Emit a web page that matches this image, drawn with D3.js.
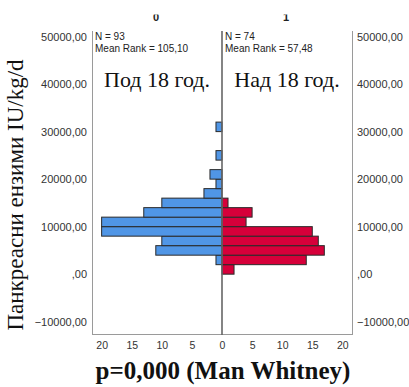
<!DOCTYPE html>
<html>
<head>
<meta charset="utf-8">
<script src="https://cdn.jsdelivr.net/npm/d3@7"></script>
<style>
  html, body { margin: 0; padding: 0; background: #fff; }
  svg { display: block; }
  .tick text { font-family: "Liberation Sans", Arial, sans-serif; fill: #333; }
</style>
</head>
<body>
<svg id="chart" width="409" height="387"></svg>
<script>
// Histogram bins (lower edge of each 2000-wide class, IU/kg/d)
const binStarts = [0, 2000, 4000, 6000, 8000, 10000, 12000, 14000, 16000, 18000, 20000, 22000, 24000, 26000, 28000, 30000];
const binWidth = 2000;
// Frequencies per bin
const under18 = [0, 1, 11, 10, 20, 20, 13, 10, 3, 1, 2, 0, 1, 0, 0, 1];
const over18  = [2, 14, 17, 16, 15, 4, 5, 1, 0, 0, 0, 0, 0, 0, 0, 0];
// Group headers and labels
const groupCodes = ["0", "1"];
const groupNames = ["Под 18 год.", "Над 18 год."];
const groupN = [93, 74];
const groupMeanRank = ["105,10", "57,48"];
// Axis ticks
const yTicks = [-10000, 0, 10000, 20000, 30000, 40000, 50000];
const xTicksLeft = [20, 15, 10, 5];
const xTicksRight = [0, 5, 10, 15, 20];
const yTitle = "Панкреасни ензими IU/kg/d";
const chartTitle = "p=0,000 (Man Whitney)";

const svg = d3.select("#chart");
const plotLeft = 92, plotMid = 222, plotRight = 352, plotTop = 31, plotBottom = 334;

const y = d3.scaleLinear().domain([-12590, 51170]).range([plotBottom, plotTop]);
const xL = d3.scaleLinear().domain([0, 21.6]).range([plotMid, plotLeft]);
const xR = d3.scaleLinear().domain([0, 21.6]).range([plotMid, plotRight]);

const fmt = v => v === 0 ? ",00" : d3.format(".2f")(v).replace(".", ",");

// Frame
const frame = svg.append("g").attr("fill", "none").attr("stroke", "#9a9a9a").attr("stroke-width", 1);
frame.append("line").attr("x1", plotLeft + 0.5).attr("x2", plotLeft + 0.5).attr("y1", plotTop).attr("y2", plotBottom + 0.5);
frame.append("line").attr("x1", plotRight + 0.5).attr("x2", plotRight + 0.5).attr("y1", plotTop).attr("y2", plotBottom + 0.5);
frame.append("line").attr("x1", plotLeft).attr("x2", plotRight + 1).attr("y1", plotBottom + 0.5).attr("y2", plotBottom + 0.5);

// Bars
const rows = binStarts.map((b, i) => ({ b, a: under18[i], c: over18[i] }));
const barStroke = "#2a2a2a";
svg.append("g").selectAll("rect").data(rows.filter(d => d.a > 0)).join("rect")
  .attr("x", d => xL(d.a))
  .attr("width", d => xL(0) - xL(d.a))
  .attr("y", d => y(d.b + binWidth))
  .attr("height", d => y(d.b) - y(d.b + binWidth))
  .attr("fill", "#5096e6")
  .attr("stroke", barStroke).attr("stroke-width", 1);
svg.append("g").selectAll("rect").data(rows.filter(d => d.c > 0)).join("rect")
  .attr("x", xR(0))
  .attr("width", d => xR(d.c) - xR(0))
  .attr("y", d => y(d.b + binWidth))
  .attr("height", d => y(d.b) - y(d.b + binWidth))
  .attr("fill", "#d6003a")
  .attr("stroke", barStroke).attr("stroke-width", 1);

// Centre axis
svg.append("line").attr("x1", plotMid).attr("x2", plotMid).attr("y1", plotTop).attr("y2", plotBottom + 1)
  .attr("stroke", "#666").attr("stroke-width", 1.6);

// Y axes
const yAxL = svg.append("g").attr("transform", `translate(${plotLeft},0)`)
  .call(d3.axisLeft(y).tickValues(yTicks).tickFormat(fmt).tickSize(0).tickPadding(5));
const yAxR = svg.append("g").attr("transform", `translate(${plotRight},0)`)
  .call(d3.axisRight(y).tickValues(yTicks).tickFormat(fmt).tickSize(0).tickPadding(5));
[yAxL, yAxR].forEach(g => {
  g.select(".domain").remove();
  g.selectAll("text").attr("font-size", 11);
});

// X axes (counts)
const xAxL = svg.append("g").attr("transform", `translate(0,${plotBottom + 8})`)
  .call(d3.axisBottom(xL).tickValues(xTicksLeft).tickFormat(d3.format("d")).tickSize(0).tickPadding(0));
const xAxR = svg.append("g").attr("transform", `translate(0,${plotBottom + 8})`)
  .call(d3.axisBottom(xR).tickValues(xTicksRight).tickFormat(d3.format("d")).tickSize(0).tickPadding(0));
[xAxL, xAxR].forEach(g => {
  g.select(".domain").remove();
  g.selectAll("text").attr("font-size", 10.5);
});

// Group panels: codes, stats, names
const panelCenters = [(plotLeft + plotMid) / 2, (plotMid + plotRight) / 2];
const panelStarts = [plotLeft, plotMid];

svg.append("clipPath").attr("id", "hdr-clip")
  .append("rect").attr("x", 0).attr("y", 14.5).attr("width", 409).attr("height", 20);
svg.append("g").attr("clip-path", "url(#hdr-clip)")
  .selectAll("text").data(groupCodes).join("text")
  .attr("x", (d, i) => panelCenters[i] - 1)
  .attr("y", 20.5)
  .attr("text-anchor", "middle")
  .attr("font-family", "Liberation Sans, Arial, sans-serif")
  .attr("font-weight", "bold").attr("font-size", 11).attr("fill", "#222")
  .text(d => d);

const stats = svg.append("g")
  .attr("font-family", "Liberation Sans, Arial, sans-serif")
  .attr("font-size", 10).attr("fill", "#222");
groupN.forEach((n, i) => {
  stats.append("text").attr("x", panelStarts[i] + 3).attr("y", 39.5).text(`N = ${n}`);
  stats.append("text").attr("x", panelStarts[i] + 3).attr("y", 51.5).text(`Mean Rank = ${groupMeanRank[i]}`);
});

svg.append("g").selectAll("text").data(groupNames).join("text")
  .attr("x", (d, i) => panelCenters[i])
  .attr("y", 87)
  .attr("text-anchor", "middle")
  .attr("font-family", "Liberation Serif, Times New Roman, serif")
  .attr("font-size", 22).attr("fill", "#111")
  .text(d => d);

// Y title
svg.append("text")
  .attr("transform", "translate(23,195) rotate(-90)")
  .attr("text-anchor", "middle")
  .attr("font-family", "Liberation Serif, Times New Roman, serif")
  .attr("font-size", 23).attr("fill", "#111")
  .text(yTitle);

// Chart title
svg.append("text")
  .attr("x", 223).attr("y", 379)
  .attr("text-anchor", "middle")
  .attr("font-family", "Liberation Serif, Times New Roman, serif")
  .attr("font-weight", "bold")
  .attr("font-size", 25).attr("fill", "#111")
  .text(chartTitle);
</script>
</body>
</html>
